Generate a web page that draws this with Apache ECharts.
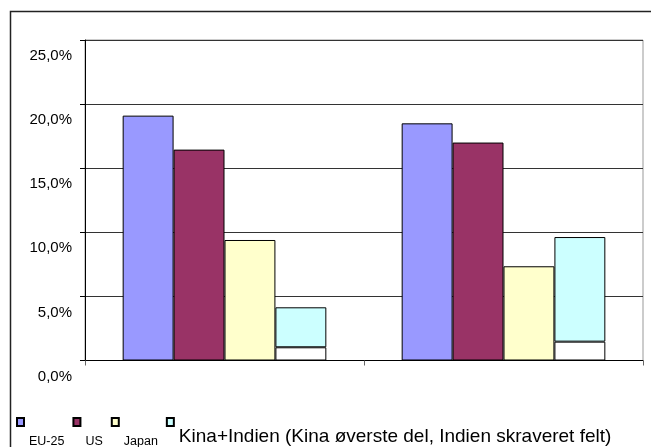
<!DOCTYPE html>
<html>
<head>
<meta charset="utf-8">
<script src="https://cdn.jsdelivr.net/npm/echarts@6/dist/echarts.min.js"></script>
<style>
html,body{margin:0;padding:0;background:#fff;}
#c{width:651px;height:447px;}
</style>
</head>
<body>
<div id="c"></div>
<script>
const categories = ['Gruppe 1', 'Gruppe 2'];
const eu25 = [19.1, 18.5];
const us = [16.45, 17.0];
const japan = [9.4, 7.35];
const indien = [1.03, 1.47];
const kina = [3.12, 8.16];
const yTicks = [0, 5, 10, 15, 20, 25];

const FONT = '"Liberation Sans", Arial, sans-serif';
const chart = echarts.init(document.getElementById('c'), null, {renderer: 'canvas'});
const border = {borderColor: '#000', borderWidth: 1};
const kinaName = 'Kina+Indien (Kina øverste del, Indien skraveret felt)';

chart.setOption({
  animation: false,
  backgroundColor: '#fff',
  textStyle: {fontFamily: FONT},
  graphic: [{
    type: 'rect', silent: true,
    shape: {x: 10.5, y: 11.5, width: 700, height: 500},
    style: {fill: 'none', stroke: '#222', lineWidth: 1.5}
  }],
  grid: {left: 85, top: 40, right: 8, bottom: 86.5, show: true, borderColor: '#999', borderWidth: 1, containLabel: false},
  legend: {
    left: 16, top: 382, padding: 0, itemGap: 8, itemWidth: 7, itemHeight: 8,
    icon: 'rect',
    formatter: name => '\n' + name,
    textStyle: {fontFamily: FONT, fontSize: 12.5, color: '#000', lineHeight: 40},
    data: [
      {name: 'EU-25'},
      {name: 'US'},
      {name: 'Japan'},
      {name: kinaName, textStyle: {fontSize: 19, lineHeight: 30}}
    ]
  },
  xAxis: {
    type: 'category', data: categories,
    axisLine: {lineStyle: {color: '#000', width: 1}},
    axisTick: {show: true, length: 5, lineStyle: {color: '#666'}},
    axisLabel: {show: false},
    splitLine: {show: false}
  },
  yAxis: {
    type: 'value', min: yTicks[0], max: yTicks[yTicks.length - 1], interval: 5,
    axisLine: {show: true, lineStyle: {color: '#000', width: 1}},
    axisTick: {show: true, length: 5, lineStyle: {color: '#000'}},
    axisLabel: {
      fontFamily: FONT, fontSize: 15, color: '#000', margin: 13,
      lineHeight: 32, verticalAlign: 'middle',
      showMinLabel: true, showMaxLabel: true, hideOverlap: false,
      formatter: v => '\n' + v.toFixed(1).replace('.', ',') + '%'
    },
    splitLine: {show: true, lineStyle: {color: '#333', width: 1}}
  },
  series: [
    {name: 'EU-25', type: 'bar', stack: 'a', data: eu25, barCategoryGap: '27%', barGap: '0%',
     itemStyle: Object.assign({color: '#9999FF'}, border)},
    {name: 'US', type: 'bar', stack: 'b', data: us, barCategoryGap: '27%', barGap: '0%',
     itemStyle: Object.assign({color: '#993366'}, border)},
    {name: 'Japan', type: 'bar', stack: 'c', data: japan, barCategoryGap: '27%', barGap: '0%',
     itemStyle: Object.assign({color: '#FFFFCC'}, border)},
    {name: 'Indien', type: 'bar', stack: 'd', data: indien, barCategoryGap: '27%', barGap: '0%',
     itemStyle: Object.assign({color: '#FFFFFF'}, border)},
    {name: kinaName, type: 'bar', stack: 'd', data: kina, barCategoryGap: '27%', barGap: '0%',
     itemStyle: Object.assign({color: '#CCFFFF'}, border)}
  ]
});
</script>
</body>
</html>
